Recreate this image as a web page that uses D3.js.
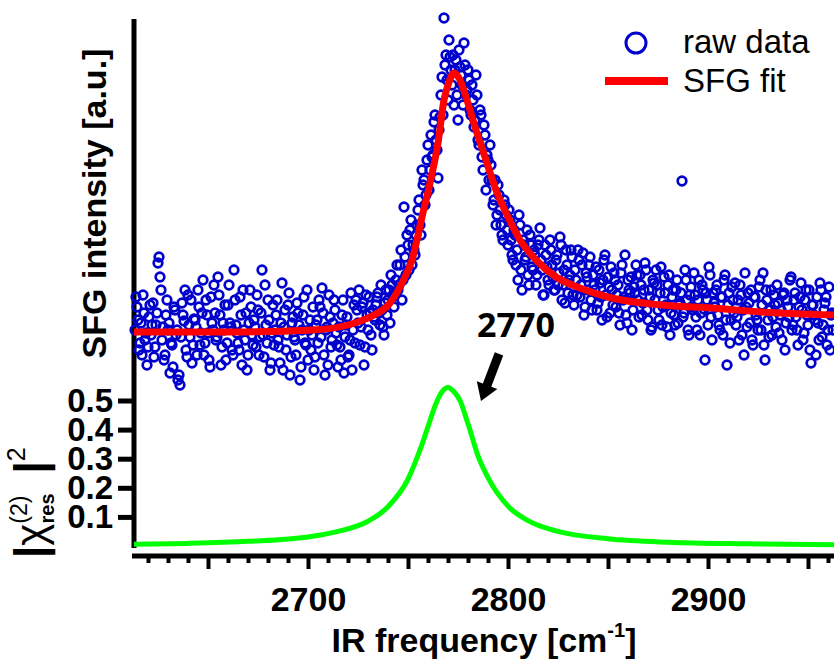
<!DOCTYPE html>
<html>
<head>
<meta charset="utf-8">
<script src="https://cdn.jsdelivr.net/npm/d3@7"></script>
<style>
  body { margin: 0; background: #fff; }
  svg { display: block; font-family: "Liberation Sans", Arial, sans-serif; }
</style>
</head>
<body>
<div id="chart"></div>
<script>
// raw SFG spectrum, sampled every 0.5 cm-1: whole-number points start at 2614,
// half-number points start at 2613.5
const rawStartA = 2614;
const rawYA = [
  88, 65, 42, 30, 72, 52, 38, 80, 60, 28,
  60, 122, 108, 45, 25, 70, 55, 12, 40, 78,
  50, 5, 0, 82, 64, 35, 90, 48, 22, 66,
  58, 95, 40, 72, 30, 85, 52, 18, 62, 100,
  45, 108, 70, 38, 55, 25, 80, 62, 35, 115,
  60, 42, 88, 20, 55, 72, 30, 95, 50, 65,
  38, 75, 48, 115, 28, 60, 85, 15, 52, 40,
  70, 45, 22, 102, 58, 35, 80, 10, 62, 48,
  30, 72, 5, 55, 88, 40, 25, 65, 50, 15,
  60, 42, 78, 97, 30, 55, 20, 68, 45, 85,
  52, 18, 38, 70, 12, 60, 28, 45, 15, 80,
  85, 62, 40, 78, 20, 90, 55, 72, 35, 68,
  80, 92, 60, 75, 50, 95, 85, 62, 100, 78,
  105, 95, 120, 85, 178, 110, 140, 155, 120, 135,
  150, 175, 160, 215, 205, 190, 240, 215, 228, 263,
  245, 207, 268, 308, 367, 330, 285, 328, 300, 280,
  325, 265, 318, 300, 342, 290, 315, 275, 300, 258,
  310, 245, 275, 228, 260, 195, 225, 240, 205, 185,
  160, 200, 175, 150, 185, 170, 140, 165, 130, 155,
  120, 105, 160, 95, 140, 128, 110, 150, 118, 135,
  100, 140, 157, 115, 90, 130, 105, 145, 120, 95,
  125, 100, 148, 85, 115, 135, 92, 110, 128, 80,
  105, 135, 88, 120, 70, 112, 95, 128, 75, 100,
  118, 82, 102, 65, 125, 90, 108, 72, 95, 112,
  78, 100, 60, 120, 88, 70, 105, 92, 55, 98,
  120, 85, 110, 70, 95, 115, 65, 88, 58, 102,
  115, 75, 92, 60, 108, 80, 100, 50, 88, 70,
  95, 62, 82, 204, 72, 105, 55, 90, 78, 112,
  68, 85, 50, 100, 76, 92, 60, 110, 45, 82,
  95, 70, 55, 88, 105, 65, 80, 42, 98, 72,
  60, 85, 100, 50, 30, 78, 92, 62, 45, 88,
  70, 55, 105, 80, 40, 95, 65, 75, 50, 90,
  58, 82, 70, 45, 92, 62, 78, 105, 55, 85,
  68, 40, 88, 75, 52, 95, 60, 35, 80, 70,
  30, 62, 102, 48, 75, 88, 55, 35, 72
];
const rawStartB = 2613.5;
const rawYB = [
  55, 78, 35, 62, 90, 45, 20, 68, 50, 82,
  38, 72, 128, 95, 58, 30, 85, 62, 42, 18,
  75, 55, 10, 48, 70, 95, 28, 60, 85, 40,
  65, 30, 78, 52, 105, 42, 70, 25, 88, 55,
  72, 48, 90, 20, 62, 80, 42, 100, 58, 30,
  85, 52, 35, 70, 95, 45, 15, 62, 78, 40,
  58, 90, 30, 72, 50, 100, 42, 65, 22, 80,
  55, 85, 38, 62, 15, 75, 50, 92, 28, 68,
  45, 82, 60, 18, 70, 42, 95, 55, 35, 78,
  28, 65, 85, 48, 72, 10, 58, 90, 38, 62,
  75, 40, 58, 25, 85, 48, 68, 30, 92, 55,
  42, 75, 95, 58, 82, 38, 70, 88, 50, 75,
  65, 88, 72, 100, 58, 82, 70, 95, 110, 88,
  90, 120, 100, 135, 105, 128, 150, 115, 165, 140,
  130, 160, 185, 150, 200, 180, 225, 195, 250, 230,
  270, 235, 255, 290, 270, 320, 305, 345, 315, 330,
  315, 290, 335, 310, 280, 320, 295, 305, 270, 285,
  265, 290, 240, 270, 215, 250, 230, 205, 220, 180,
  205, 170, 190, 160, 145, 180, 155, 175, 145, 125,
  150, 135, 170, 115, 145, 125, 155, 100, 140, 115,
  130, 110, 145, 125, 90, 140, 118, 100, 135, 108,
  95, 130, 112, 140, 100, 82, 120, 105, 135, 90,
  115, 90, 125, 100, 132, 78, 108, 120, 85, 110,
  95, 75, 115, 88, 105, 130, 68, 98, 118, 80,
  105, 90, 72, 112, 85, 130, 62, 95, 108, 75,
  92, 110, 68, 100, 82, 122, 75, 95, 55, 105,
  85, 100, 65, 118, 78, 92, 58, 110, 72, 95,
  60, 105, 80, 92, 68, 115, 85, 50, 98, 75,
  90, 55, 105, 72, 95, 25, 85, 118, 68, 92,
  78, 100, 60, 88, 50, 110, 20, 92, 65, 85,
  102, 68, 45, 90, 75, 112, 58, 82, 95, 40,
  88, 65, 98, 55, 112, 25, 85, 48, 95, 68,
  80, 100, 52, 75, 90, 35, 85, 68, 108, 60,
  92, 55, 78, 102, 45, 85, 70, 95, 22, 80,
  65, 88, 45, 95, 60, 82, 40, 98, 70, 55
];

// SFG fit curve
const fitX = [2613, 2661, 2702, 2720, 2731, 2741, 2747, 2752, 2757, 2761, 2765, 2768, 2770, 2773, 2776, 2779, 2784, 2789, 2794, 2800, 2806, 2814, 2824, 2836, 2852, 2877, 2902, 2927, 2963];
const fitY = [53, 53, 55, 60, 68, 82, 102, 125, 168, 202, 242, 285, 300, 312, 305, 288, 255, 225, 195, 168, 145, 125, 108, 97, 87, 80, 77, 73, 70];

// |chi(2)res|^2
const resX = [2613, 2640, 2670, 2700, 2715, 2730, 2740, 2750, 2756, 2760, 2764, 2767, 2770, 2773, 2776, 2780, 2785, 2790, 2800, 2810, 2825, 2850, 2880, 2920, 2963];
const resY = [0.006, 0.009, 0.016, 0.031, 0.05, 0.085, 0.135, 0.23, 0.33, 0.41, 0.49, 0.53, 0.545, 0.53, 0.50, 0.42, 0.31, 0.235, 0.137, 0.087, 0.05, 0.025, 0.013, 0.0075, 0.0045];

const bottomTicks = [0.1, 0.2, 0.3, 0.4, 0.5];
const xTicks = d3.range(2620, 2961, 10);
const peakLabel = "2770";

const width = 834, height = 664;

const svg = d3.select("#chart").append("svg")
    .attr("width", width)
    .attr("height", height);

svg.append("rect").attr("width", width).attr("height", height).attr("fill", "#fff");

const x = d3.scaleLinear().domain([2613, 2963]).range([134, 834]);
const yTop = d3.scaleLinear().domain([0, 370]).range([385, 15]);
const yBot = d3.scaleLinear().domain([0, 0.5]).range([546, 400.5]);

// left spine
svg.append("line")
    .attr("x1", 134).attr("x2", 134)
    .attr("y1", 19).attr("y2", 548)
    .attr("stroke", "#000").attr("stroke-width", 5);

// left axis of the lower panel
const yAxis = svg.append("g")
    .attr("transform", "translate(134,0)")
    .call(d3.axisLeft(yBot).tickValues(bottomTicks).tickSize(16).tickPadding(5).tickFormat(d3.format(".1f")));
yAxis.select(".domain").remove();
yAxis.selectAll(".tick line").attr("stroke-width", 5);
yAxis.selectAll(".tick text")
    .attr("font-size", 33).attr("font-weight", "bold")
    .attr("font-family", "Liberation Sans, Arial, sans-serif")
    .attr("fill", "#000");

// bottom axis
const xAxis = svg.append("g")
    .attr("transform", "translate(0,555.5)")
    .call(d3.axisBottom(x).tickValues(xTicks).tickSize(7.5).tickSizeOuter(0)
        .tickFormat(d => d % 100 === 0 ? d : ""));
xAxis.select(".domain").attr("stroke-width", 5).attr("stroke-linecap", "square");
xAxis.selectAll(".tick line")
    .attr("stroke-width", 4)
    .attr("y2", d => d % 50 === 0 ? 13.5 : 7.5);
xAxis.selectAll(".tick text")
    .attr("font-size", 34).attr("font-weight", "bold")
    .attr("font-family", "Liberation Sans, Arial, sans-serif")
    .attr("fill", "#000")
    .attr("dy", null).attr("y", 55);

// axis titles
svg.append("text")
    .attr("transform", "translate(106,203.5) rotate(-90)")
    .attr("text-anchor", "middle")
    .attr("font-size", 34).attr("font-weight", "bold")
    .text("SFG intensity [a.u.]");

const xt = svg.append("text")
    .attr("x", 484).attr("y", 652)
    .attr("text-anchor", "middle")
    .attr("font-size", 34).attr("font-weight", "bold");
xt.append("tspan").text("IR frequency [cm");
xt.append("tspan").attr("font-size", 20).attr("dy", -15).text("-1");
xt.append("tspan").attr("dy", 15).text("]");

const ct = svg.append("text")
    .attr("transform", "translate(45,558) rotate(-90)")
    .attr("text-anchor", "start");
ct.append("tspan").attr("font-size", 44).attr("font-weight", "bold").text("|");
ct.append("tspan").attr("font-size", 42).text("\u03C7");
ct.append("tspan").attr("font-size", 23).attr("dy", -18).text("(2)");
ct.append("tspan").attr("font-size", 20).attr("font-weight", "bold").attr("dx", -28).attr("dy", 27).text("res");
ct.append("tspan").attr("font-size", 44).attr("font-weight", "bold").attr("dx", 20).attr("dy", -9).text("|");
ct.append("tspan").attr("font-size", 25).attr("dy", -20).text("2");

// raw data
const rawG = svg.append("g")
    .attr("fill", "none")
    .attr("stroke", "#0000cc")
    .attr("stroke-width", 2.7);
[[rawStartA, rawYA], [rawStartB, rawYB]].forEach(([start, vals]) => {
    rawG.append("g")
        .selectAll("circle")
        .data(vals)
        .enter()
        .append("circle")
            .attr("cx", (d, i) => x(start + i))
            .attr("cy", d => yTop(d))
            .attr("r", 4.3);
});

// fit
const fitLine = d3.line()
    .x((d, i) => x(fitX[i]))
    .y(d => yTop(d))
    .curve(d3.curveMonotoneX);
svg.append("path")
    .attr("d", fitLine(fitY))
    .attr("fill", "none")
    .attr("stroke", "#ff0000")
    .attr("stroke-width", 7);

// resonant part
const resLine = d3.line()
    .x((d, i) => x(resX[i]))
    .y(d => yBot(d))
    .curve(d3.curveMonotoneX);
svg.append("path")
    .attr("d", resLine(resY))
    .attr("fill", "none")
    .attr("stroke", "#00ff00")
    .attr("stroke-width", 5);

// peak annotation
svg.append("text")
    .attr("x", 516).attr("y", 337)
    .attr("text-anchor", "middle")
    .attr("font-family", "Open Sans, Liberation Sans, sans-serif")
    .attr("font-size", 34).attr("font-weight", "bold")
    .text(peakLabel);

const tail = [x(2795.5), yBot(0.66)];
const tip = [x(2786.5), yBot(0.498)];
const dxA = tip[0] - tail[0], dyA = tip[1] - tail[1];
const len = Math.hypot(dxA, dyA);
const ux = dxA / len, uy = dyA / len, nx = -uy, ny = ux;
const headLen = 17, headW = 11, shaftW = 4.5;
const bx = tip[0] - ux * headLen, by = tip[1] - uy * headLen;
const arrowPts = [
    [tail[0] + nx * shaftW, tail[1] + ny * shaftW],
    [bx + nx * shaftW, by + ny * shaftW],
    [bx + nx * headW, by + ny * headW],
    tip,
    [bx - nx * headW, by - ny * headW],
    [bx - nx * shaftW, by - ny * shaftW],
    [tail[0] - nx * shaftW, tail[1] - ny * shaftW]
];
svg.append("path")
    .attr("d", d3.line()(arrowPts) + "Z")
    .attr("fill", "#000");

// legend
const legend = svg.append("g");
legend.append("circle")
    .attr("cx", 636).attr("cy", 43).attr("r", 10)
    .attr("fill", "none").attr("stroke", "#0000cc").attr("stroke-width", 3);
legend.append("text")
    .attr("x", 683).attr("y", 53)
    .attr("font-size", 33)
    .text("raw data");
legend.append("line")
    .attr("x1", 605).attr("x2", 668).attr("y1", 81).attr("y2", 81)
    .attr("stroke", "#ff0000").attr("stroke-width", 8);
legend.append("text")
    .attr("x", 683).attr("y", 92)
    .attr("font-size", 33)
    .text("SFG fit");
</script>
</body>
</html>
